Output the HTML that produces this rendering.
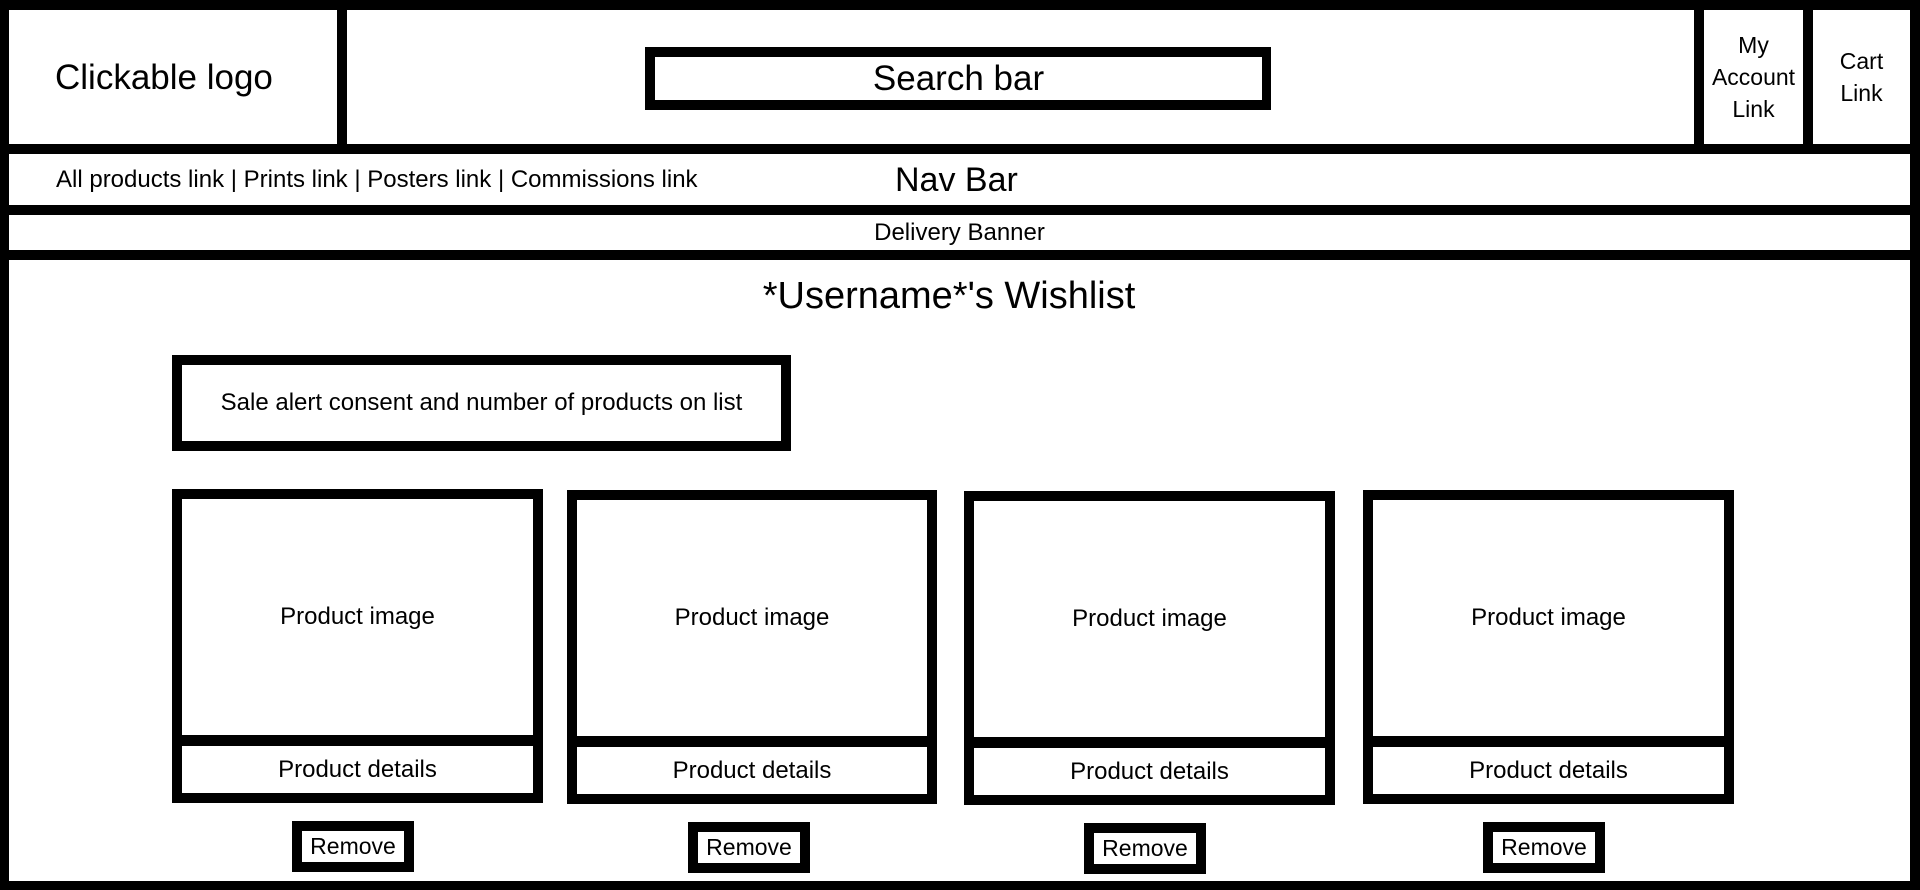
<!DOCTYPE html>
<html><head><meta charset="utf-8"><style>
html,body{margin:0;padding:0;}
body{width:1920px;height:890px;background:#000;position:relative;overflow:hidden;font-family:"Liberation Sans",sans-serif;color:#000;}
.w{position:absolute;background:#fff;display:flex;align-items:center;justify-content:center;text-align:center;}
.b{position:absolute;background:#000;}
</style></head><body>
<!-- header -->
<div class="w" style="left:9px;top:10px;width:328px;height:134px;"></div>
<div style="position:absolute;left:55px;top:56px;font-size:35px;line-height:44px;white-space:nowrap;">Clickable logo</div>
<div class="w" style="left:347px;top:10px;width:1347px;height:134px;"></div>
<div class="b" style="left:645px;top:47px;width:626px;height:63px;"></div>
<div class="w" style="left:655px;top:57px;width:607px;height:43px;font-size:35px;">Search bar</div>
<div class="w" style="left:1704px;top:10px;width:99px;height:134px;font-size:23px;line-height:32px;">My<br>Account<br>Link</div>
<div class="w" style="left:1813px;top:10px;width:97px;height:134px;font-size:23px;line-height:32px;">Cart<br>Link</div>
<!-- nav -->
<div class="w" style="left:9px;top:154px;width:1901px;height:51px;"></div>
<div style="position:absolute;left:56px;top:165px;font-size:24px;line-height:30px;white-space:nowrap;">All products link | Prints link | Posters link | Commissions link</div>
<div style="position:absolute;left:895px;top:160px;font-size:34px;line-height:40px;white-space:nowrap;">Nav Bar</div>
<div class="w" style="left:9px;top:215px;width:1901px;height:35px;font-size:24px;">Delivery Banner</div>
<!-- main -->
<div class="w" style="left:9px;top:260px;width:1901px;height:621px;"></div>
<div style="position:absolute;left:0;width:1898px;top:274px;text-align:center;font-size:38px;line-height:44px;">*Username*'s Wishlist</div>
<div class="b" style="left:172px;top:355px;width:619px;height:96px;"></div>
<div class="w" style="left:182px;top:365px;width:599px;height:76px;font-size:24px;">Sale alert consent and number of products on list</div>

<!-- cards -->
<div class="b" style="left:172px;top:489px;width:371px;height:314px;"></div>
<div class="w" style="left:182px;top:499px;width:351px;height:236px;font-size:24px;">Product image</div>
<div class="w" style="left:182px;top:746px;width:351px;height:47px;font-size:24px;">Product details</div>
<div class="b" style="left:292px;top:821px;width:122px;height:51px;"></div>
<div class="w" style="left:302px;top:831px;width:102px;height:31px;font-size:23px;">Remove</div>

<div class="b" style="left:567px;top:490px;width:370px;height:314px;"></div>
<div class="w" style="left:577px;top:500px;width:350px;height:236px;font-size:24px;">Product image</div>
<div class="w" style="left:577px;top:747px;width:350px;height:47px;font-size:24px;">Product details</div>
<div class="b" style="left:688px;top:822px;width:122px;height:51px;"></div>
<div class="w" style="left:698px;top:832px;width:102px;height:31px;font-size:23px;">Remove</div>

<div class="b" style="left:964px;top:491px;width:371px;height:314px;"></div>
<div class="w" style="left:974px;top:501px;width:351px;height:236px;font-size:24px;">Product image</div>
<div class="w" style="left:974px;top:748px;width:351px;height:47px;font-size:24px;">Product details</div>
<div class="b" style="left:1084px;top:823px;width:122px;height:51px;"></div>
<div class="w" style="left:1094px;top:833px;width:102px;height:31px;font-size:23px;">Remove</div>

<div class="b" style="left:1363px;top:490px;width:371px;height:314px;"></div>
<div class="w" style="left:1373px;top:500px;width:351px;height:236px;font-size:24px;">Product image</div>
<div class="w" style="left:1373px;top:747px;width:351px;height:47px;font-size:24px;">Product details</div>
<div class="b" style="left:1483px;top:822px;width:122px;height:51px;"></div>
<div class="w" style="left:1493px;top:832px;width:102px;height:31px;font-size:23px;">Remove</div>
</body></html>
